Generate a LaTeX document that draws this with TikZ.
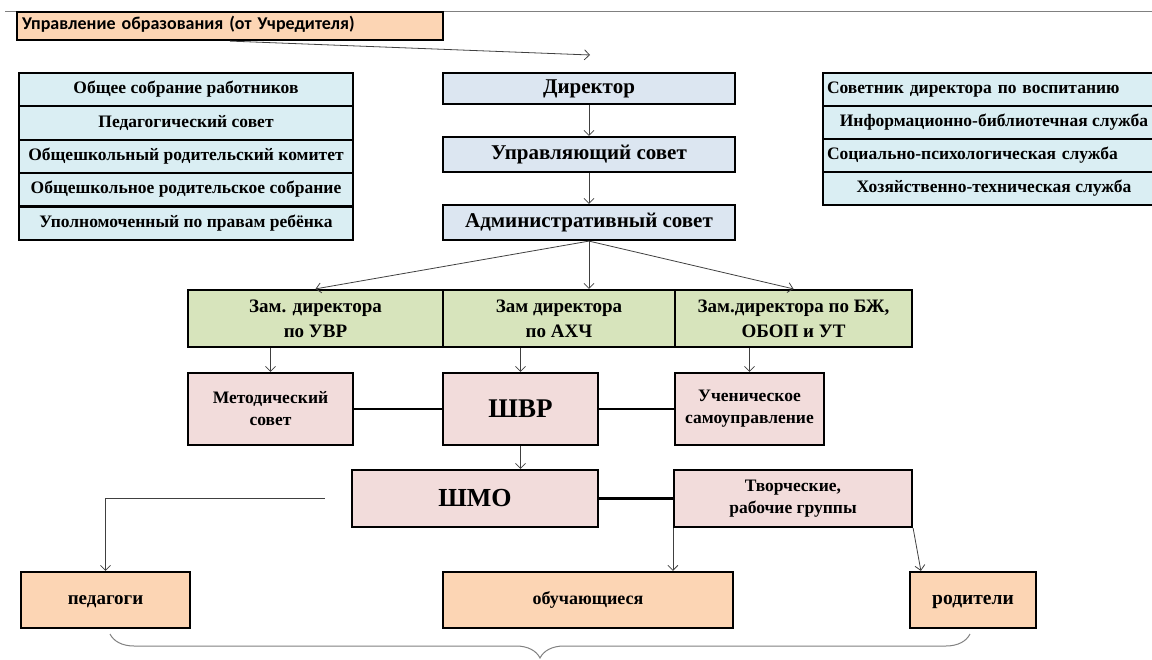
\documentclass[tikz,border=0pt]{standalone}
\usepackage{fontspec}
\setmainfont{Liberation Serif}
\newfontfamily\calibri{Carlito}
\usetikzlibrary{arrows.meta,decorations.pathreplacing,calc}

\definecolor{peach}{HTML}{FCD5B4}
\definecolor{paleblue}{HTML}{DAEEF3}
\definecolor{greyblue}{HTML}{DCE6F1}
\definecolor{palegreen}{HTML}{D7E4BC}
\definecolor{palepink}{HTML}{F2DCDB}
\definecolor{linegrey}{HTML}{404040}

\tikzset{
  box/.style={draw, line width=2.2pt, inner sep=0pt, align=center, font=\bfseries},
  sizes/.style 2 args={minimum width=#1pt, minimum height=#2pt},
  oneline/.style={execute at begin node=\strut},
  arr/.style={->, >={Straight Barb[length=5pt,width=10pt]}, draw=linegrey, line width=0.8pt},
  link/.style={line width=2.2pt}
}

\begin{document}
\begin{tikzpicture}[x=1pt, y=-1pt]
\useasboundingbox (0,0) rectangle (1152,660);

\def \lsize {\fontsize{17.5}{20}\selectfont}
\def \bsize {\fontsize{21}{23}\selectfont}
\def \gsize {\fontsize{19}{25}\selectfont}
\def \psize {\fontsize{17.5}{22}\selectfont}

% top line and founder
\draw[gray, line width=1pt] (5,12) -- (1152,12);
\node[box, oneline, fill=peach, sizes={426}{28}, text width=416pt, align=left, inner xsep=5pt,
  font=\calibri\bfseries\fontsize{18}{20}\selectfont] (uprav) at (230,26)
  {Управление образования (от Учредителя)};
\coordinate (upravend) at (590,55);
\draw[arr] (uprav.south) -- (upravend);

% left column
\foreach \t [count=\i] in {Общее собрание работников, Педагогический совет,
  Общешкольный родительский комитет, Общешкольное родительское собрание,
  Уполномоченный по правам ребёнка}
{
  \node[box, oneline, fill=paleblue, sizes={334}{33.4}, font=\bfseries\lsize] (left\i)
    at (186, {73 + 33.4*(\i - 0.5)}) {\t};
}

% right column
\node[box, oneline, fill=paleblue, sizes={342}{33}, text width=334pt, align=left, inner xsep=4pt,
  font=\bfseries\lsize] (right1) at (994,89.5) {Советник директора по воспитанию};
\node[box, oneline, fill=paleblue, sizes={342}{33}, font=\bfseries\lsize] (right2) at (994,122.5)
  {Информационно-библиотечная служба};
\node[box, oneline, fill=paleblue, sizes={342}{33}, text width=334pt, align=left, inner xsep=4pt,
  font=\bfseries\lsize] (right3) at (994,155.5) {Социально-психологическая служба};
\node[box, oneline, fill=paleblue, sizes={342}{33}, font=\bfseries\lsize] (right4) at (994,188.5)
  {Хозяйственно-техническая служба};

% central column
\node[box, oneline, fill=greyblue, sizes={292}{31}, font=\bfseries\bsize] (dir) at (589,88.5) {Директор};
\node[box, oneline, fill=greyblue, sizes={292}{35}, font=\bfseries\bsize] (usov) at (589,154.5) {Управляющий совет};
\node[box, oneline, fill=greyblue, sizes={292}{35}, font=\bfseries\bsize] (asov) at (589,222.5) {Административный совет};
\draw[arr] (dir.south) -- (usov.north);
\draw[arr] (usov.south) -- (asov.north);

% deputies
\node[box, fill=palegreen, sizes={255}{57}, font=\bfseries\gsize] (zam1)
  at (315.5,318.5) {Зам. директора\\по УВР};
\node[box, fill=palegreen, sizes={232}{57}, font=\bfseries\gsize] (zam2)
  at (559,318.5) {Зам директора\\по АХЧ};
\node[box, fill=palegreen, sizes={237}{57}, font=\bfseries\gsize] (zam3)
  at (793.5,318.5) {Зам.директора по БЖ,\\ОБОП и УТ};
\draw[arr] (asov.south) -- (zam1.north);
\draw[arr] (asov.south) -- (asov.south |- zam2.north);
\draw[arr] (asov.south) -- (zam3.north);

% councils
\node[box, fill=palepink, sizes={165}{72}, font=\bfseries\psize] (metod)
  at (270.5,409) {Методический\\совет};
\node[box, fill=palepink, sizes={155}{72}, font=\bfseries\fontsize{27}{26}\selectfont] (shvr)
  at (520.5,409) {ШВР};
\node[box, fill=palepink, sizes={149}{72}, font=\bfseries\psize] (uchen)
  at (749.5,409) {Ученическое\\самоуправление};
\draw[arr] (metod.north |- zam1.south) -- (metod.north);
\draw[arr] (shvr.north |- zam2.south) -- (shvr.north);
\draw[arr] (uchen.north |- zam3.south) -- (uchen.north);
\draw[link] (metod.east) -- (shvr.west);
\draw[link] (shvr.east) -- (uchen.west);

\node[box, fill=palepink, sizes={246}{57}, font=\bfseries\fontsize{26}{25}\selectfont] (shmo)
  at (475,498.5) {ШМО};
\node[box, fill=palepink, sizes={238}{57}, font=\bfseries\psize] (tvor)
  at (793,498.5) {Творческие,\\рабочие группы};
\draw[arr] (shvr.south) -- (shvr.south |- shmo.north);
\draw[link] (shmo.east) -- (tvor.west);

% participants
\node[box, oneline, fill=peach, sizes={169}{56}, font=\bfseries\fontsize{19}{21}\selectfont] (ped)
  at (105.5,600) {педагоги};
\node[box, oneline, fill=peach, sizes={290}{56}, font=\bfseries\fontsize{18}{20}\selectfont] (obuch)
  at (588,600) {обучающиеся};
\node[box, oneline, fill=peach, sizes={126}{56}, font=\bfseries\fontsize{19.5}{21}\selectfont] (rod)
  at (973,600) {родители};
\coordinate (shmostart) at ($(shmo.west)+(-26,0)$);
\draw[arr] (shmostart) -| (ped.north);
\draw[arr] (tvor.south west) -- (tvor.south west |- obuch.north);
\draw[arr] (tvor.south east) -- ($(rod.north west)+(12,0)$);

% brace
\draw[gray, line width=1pt, decorate, decoration={brace, amplitude=24pt}] (970,634) -- (110,634);
\end{tikzpicture}
\end{document}
